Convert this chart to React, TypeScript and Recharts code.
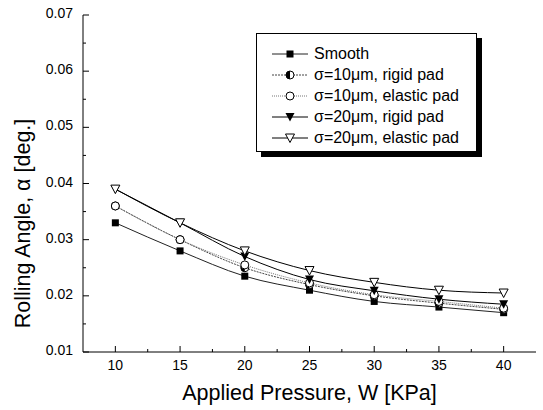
import { LineChart, Line, XAxis, YAxis, Legend } from "recharts";

// ─── Data ─────────────────────────────────────────────────────────────────────

const pressure = [10, 15, 20, 25, 30, 35, 40];
const smooth = [0.033, 0.028, 0.0235, 0.021, 0.019, 0.018, 0.017];
const rigid10 = [0.036, 0.03, 0.025, 0.022, 0.02, 0.0187, 0.0176];
const elastic10 = [0.036, 0.03, 0.0255, 0.0223, 0.0202, 0.019, 0.0178];
const rigid20 = [0.039, 0.033, 0.027, 0.0229, 0.0209, 0.0194, 0.0185];
const elastic20 = [0.039, 0.033, 0.028, 0.0245, 0.0224, 0.021, 0.0205];

const xMajor = [10, 15, 20, 25, 30, 35, 40];
const xMinor = [12.5, 17.5, 22.5, 27.5, 32.5, 37.5];
const yMajor = [0.01, 0.02, 0.03, 0.04, 0.05, 0.06, 0.07];
const yMinor = [0.015, 0.025, 0.035, 0.045, 0.055, 0.065];

const rows = pressure.map((p, i) => ({
  p,
  smooth: smooth[i],
  rigid10: rigid10[i],
  elastic10: elastic10[i],
  rigid20: rigid20[i],
  elastic20: elastic20[i],
}));

type MarkerKind = "square" | "half" | "circle" | "triDown" | "triOpen";

const series: { key: string; name: string; stroke: string; dash?: string; marker: MarkerKind }[] = [
  { key: "smooth", name: "Smooth", stroke: "#222", marker: "square" },
  { key: "rigid10", name: "σ=10μm, rigid pad", stroke: "#444", dash: "2 1", marker: "half" },
  { key: "elastic10", name: "σ=10μm, elastic pad", stroke: "#777", dash: "1 1", marker: "circle" },
  { key: "rigid20", name: "σ=20μm, rigid pad", stroke: "#000", marker: "triDown" },
  { key: "elastic20", name: "σ=20μm, elastic pad", stroke: "#000", marker: "triOpen" },
];

const FONT = '"Liberation Sans", Arial, sans-serif';

// ─── Markers ──────────────────────────────────────────────────────────────────

function Marker({ kind, cx, cy }: { kind: MarkerKind; cx: number; cy: number }) {
  switch (kind) {
    case "square":
      return <rect x={cx - 3.5} y={cy - 3.5} width={7} height={7} fill="#000" />;
    case "half":
      return (
        <g>
          <circle cx={cx} cy={cy} r={4} fill="#fff" stroke="#000" strokeWidth={1} />
          <path d={`M${cx},${cy - 4} A4,4 0 0,0 ${cx},${cy + 4} Z`} fill="#000" />
        </g>
      );
    case "circle":
      return <circle cx={cx} cy={cy} r={4} fill="#fff" stroke="#000" strokeWidth={1} />;
    case "triDown":
      return <polygon points={`${cx - 4.5},${cy - 4} ${cx + 4.5},${cy - 4} ${cx},${cy + 4.5}`} fill="#000" />;
    case "triOpen":
      return (
        <polygon
          points={`${cx - 4.5},${cy - 4} ${cx + 4.5},${cy - 4} ${cx},${cy + 4.5}`}
          fill="#fff"
          stroke="#000"
          strokeWidth={1}
        />
      );
  }
}

// ─── Ticks (inward, with minor ticks) ─────────────────────────────────────────

const isIn = (v: number, list: number[]) => list.some((m) => Math.abs(m - v) < 1e-9);

function BottomTick({ x, y, payload }: any) {
  const major = isIn(payload.value, xMajor);
  return (
    <g>
      <line x1={x} y1={y} x2={x} y2={y - (major ? 6 : 3)} stroke="#000" />
      {major && (
        <text x={x} y={y + 18} textAnchor="middle" fontSize={14} fontFamily={FONT} fill="#000">
          {payload.value}
        </text>
      )}
    </g>
  );
}

function TopTick({ x, y, payload }: any) {
  const major = isIn(payload.value, xMajor);
  return <line x1={x} y1={y} x2={x} y2={y + (major ? 6 : 3)} stroke="#000" />;
}

function LeftTick({ x, y, payload }: any) {
  const major = isIn(payload.value, yMajor);
  return (
    <g>
      <line x1={x} y1={y} x2={x + (major ? 6 : 3)} y2={y} stroke="#000" />
      {major && (
        <text x={x - 10} y={y + 3} textAnchor="end" fontSize={14} fontFamily={FONT} fill="#000">
          {payload.value.toFixed(2)}
        </text>
      )}
    </g>
  );
}

function RightTick({ x, y, payload }: any) {
  const major = isIn(payload.value, yMajor);
  return <line x1={x} y1={y} x2={x - (major ? 6 : 3)} y2={y} stroke="#000" />;
}

function YTitle({ viewBox }: any) {
  const cx = 23;
  const cy = viewBox.y + viewBox.height / 2 + 40;
  return (
    <text
      x={cx}
      y={cy}
      transform={`rotate(-90 ${cx} ${cy})`}
      textAnchor="middle"
      dominantBaseline="central"
      fontSize={21.5}
      fontFamily={FONT}
      fill="#000"
    >
      Rolling Angle, α [deg.]
    </text>
  );
}

function XTitle({ viewBox }: any) {
  return (
    <text
      x={viewBox.x + viewBox.width / 2}
      y={viewBox.y + 48}
      textAnchor="middle"
      fontSize={21.5}
      fontFamily={FONT}
      fill="#000"
    >
      Applied Pressure, W [KPa]
    </text>
  );
}

// ─── Legend ───────────────────────────────────────────────────────────────────

function LegendBox() {
  return (
    <div
      style={{
        width: 219,
        height: 106,
        padding: "9px 0 2px 0",
        border: "1px solid #000",
        boxShadow: "5px 5px 0 #000",
        background: "#fff",
        fontFamily: FONT,
        fontSize: 16,
      }}
    >
      {series.map((s) => (
        <div key={s.key} style={{ display: "flex", alignItems: "center", height: 21, marginLeft: 15 }}>
          <svg width={36} height={12} style={{ flex: "none" }}>
            <line x1={0} y1={6} x2={36} y2={6} stroke={s.stroke} strokeDasharray={s.dash} />
            <Marker kind={s.marker} cx={18} cy={6} />
          </svg>
          <span style={{ marginLeft: 6, whiteSpace: "nowrap" }}>{s.name}</span>
        </div>
      ))}
    </div>
  );
}

// ─── Chart ────────────────────────────────────────────────────────────────────

export default function App() {
  return (
    <div style={{ position: "absolute", left: 0, top: 0, width: 543, height: 410, background: "#fff" }}>
      <LineChart width={543} height={410} data={rows} margin={{ top: 15, right: 7, bottom: 0, left: 0 }}>
        <XAxis
          xAxisId="t"
          orientation="top"
          dataKey="p"
          type="number"
          domain={[7.5, 42.5]}
          ticks={[...xMajor, ...xMinor]}
          interval={0}
          height={0}
          tickSize={0}
          tickMargin={0}
          tick={<TopTick />}
          tickLine={false}
          axisLine={{ stroke: "#000" }}
        />
        <XAxis
          xAxisId="b"
          dataKey="p"
          type="number"
          domain={[7.5, 42.5]}
          ticks={[...xMajor, ...xMinor]}
          interval={0}
          height={58}
          tickSize={0}
          tickMargin={0}
          tick={<BottomTick />}
          tickLine={false}
          axisLine={{ stroke: "#000" }}
          label={<XTitle />}
        />
        <YAxis
          yAxisId="l"
          type="number"
          domain={[0.01, 0.07]}
          ticks={[...yMajor, ...yMinor]}
          interval={0}
          width={83}
          tickSize={0}
          tickMargin={0}
          tick={<LeftTick />}
          tickLine={false}
          axisLine={{ stroke: "#000" }}
          label={<YTitle />}
        />
        <YAxis
          yAxisId="r"
          orientation="right"
          type="number"
          domain={[0.01, 0.07]}
          ticks={[...yMajor, ...yMinor]}
          interval={0}
          width={0}
          tickSize={0}
          tickMargin={0}
          tick={<RightTick />}
          tickLine={false}
          axisLine={{ stroke: "#000" }}
        />
        <Legend
          layout="horizontal"
          verticalAlign="middle"
          align="center"
          content={<LegendBox />}
          wrapperStyle={{ left: 256, top: 33, width: 221 }}
        />
        {series.map((s) => (
          <Line
            key={s.key}
            xAxisId="b"
            yAxisId="l"
            type="monotone"
            dataKey={s.key}
            name={s.name}
            stroke={s.stroke}
            strokeWidth={1}
            strokeDasharray={s.dash}
            isAnimationActive={false}
            dot={(p: any) => <Marker key={`${s.key}-${p.index}`} kind={s.marker} cx={p.cx} cy={p.cy} />}
            activeDot={false}
          />
        ))}
      </LineChart>
    </div>
  );
}
